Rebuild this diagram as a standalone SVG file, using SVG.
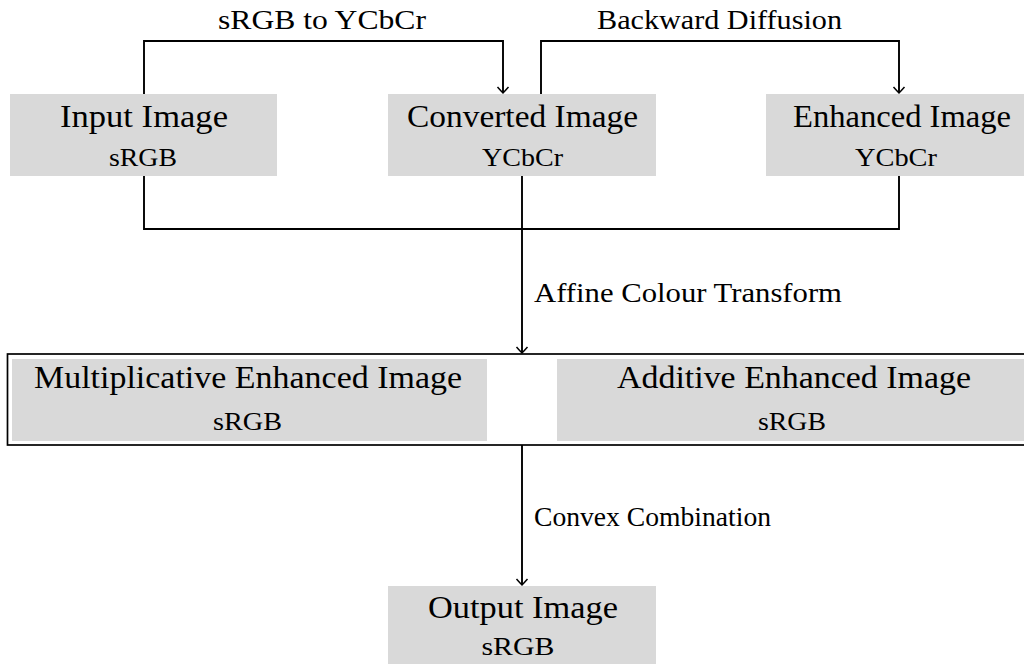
<svg xmlns="http://www.w3.org/2000/svg" width="1024" height="664" viewBox="0 0 1024 664">
<style>
.box{fill:#d9d9d9;stroke:none}
.t{font-family:"Liberation Serif","DejaVu Serif",serif;font-size:32px;fill:#000;text-anchor:middle}
.s{font-family:"Liberation Serif","DejaVu Serif",serif;font-size:25px;fill:#000;text-anchor:middle}
.l{font-family:"Liberation Serif","DejaVu Serif",serif;font-size:28px;fill:#000}
.c{fill:none;stroke:#000;stroke-width:1.9}
</style>
<defs>
<marker id="arr" viewBox="-8 -7 10 14" refX="0" refY="0" markerWidth="10" markerHeight="14" markerUnits="userSpaceOnUse" orient="auto">
<path d="M-6,-5.5 Q-1.5,-1.5 0,0 Q-1.5,1.5 -6,5.5" fill="none" stroke="#000" stroke-width="1.5"/>
</marker>
</defs>
<rect x="0" y="0" width="1024" height="664" fill="#fff"/>
<g id="group-enhanced">
<rect x="7.5" y="354" width="1030" height="91" fill="#fff" stroke="#000" stroke-width="1.7"/>
</g>
<g id="input">
<rect class="box" x="10" y="94" width="267" height="82"/>
<text class="t" x="144" y="127" textLength="168" lengthAdjust="spacingAndGlyphs">Input Image</text>
<text class="s" x="143" y="166" textLength="68" lengthAdjust="spacingAndGlyphs">sRGB</text>
</g>
<g id="converted">
<rect class="box" x="388" y="94" width="268" height="82"/>
<text class="t" x="522.5" y="127" textLength="231" lengthAdjust="spacingAndGlyphs">Converted Image</text>
<text class="s" x="522.5" y="166" textLength="81" lengthAdjust="spacingAndGlyphs">YCbCr</text>
</g>
<g id="enhanced">
<rect class="box" x="766" y="94" width="266" height="82"/>
<text class="t" x="902" y="127" textLength="218" lengthAdjust="spacingAndGlyphs">Enhanced Image</text>
<text class="s" x="896" y="166" textLength="82" lengthAdjust="spacingAndGlyphs">YCbCr</text>
</g>
<g id="multiplicative">
<rect class="box" x="12" y="359" width="475" height="82"/>
<text class="t" x="248" y="388" textLength="428" lengthAdjust="spacingAndGlyphs">Multiplicative Enhanced Image</text>
<text class="s" x="247.5" y="430" textLength="69" lengthAdjust="spacingAndGlyphs">sRGB</text>
</g>
<g id="additive">
<rect class="box" x="557" y="359" width="475" height="82"/>
<text class="t" x="794" y="388" textLength="354" lengthAdjust="spacingAndGlyphs">Additive Enhanced Image</text>
<text class="s" x="792" y="430" textLength="68" lengthAdjust="spacingAndGlyphs">sRGB</text>
</g>
<g id="output">
<rect class="box" x="388" y="586" width="268" height="82"/>
<text class="t" x="523" y="618" textLength="190" lengthAdjust="spacingAndGlyphs">Output Image</text>
<text class="s" x="518" y="655" textLength="73" lengthAdjust="spacingAndGlyphs">sRGB</text>
</g>
<g id="connectors">
<path class="c" d="M144,94 V41 H503 V93" marker-end="url(#arr)"/>
<path class="c" d="M541,94 V41 H899 V93" marker-end="url(#arr)"/>
<path class="c" d="M144,176 V229 H899 V176"/>
<path class="c" d="M522,176 V353" marker-end="url(#arr)"/>
<path class="c" d="M522,445 V585" marker-end="url(#arr)"/>
<text class="l" x="322" y="29" text-anchor="middle" textLength="208" lengthAdjust="spacingAndGlyphs">sRGB to YCbCr</text>
<text class="l" x="719.5" y="29" text-anchor="middle" textLength="245" lengthAdjust="spacingAndGlyphs">Backward Diffusion</text>
<text class="l" x="534" y="302" textLength="308" lengthAdjust="spacingAndGlyphs">Affine Colour Transform</text>
<text class="l" x="534" y="526" textLength="237" lengthAdjust="spacingAndGlyphs">Convex Combination</text>
</g>
</svg>
